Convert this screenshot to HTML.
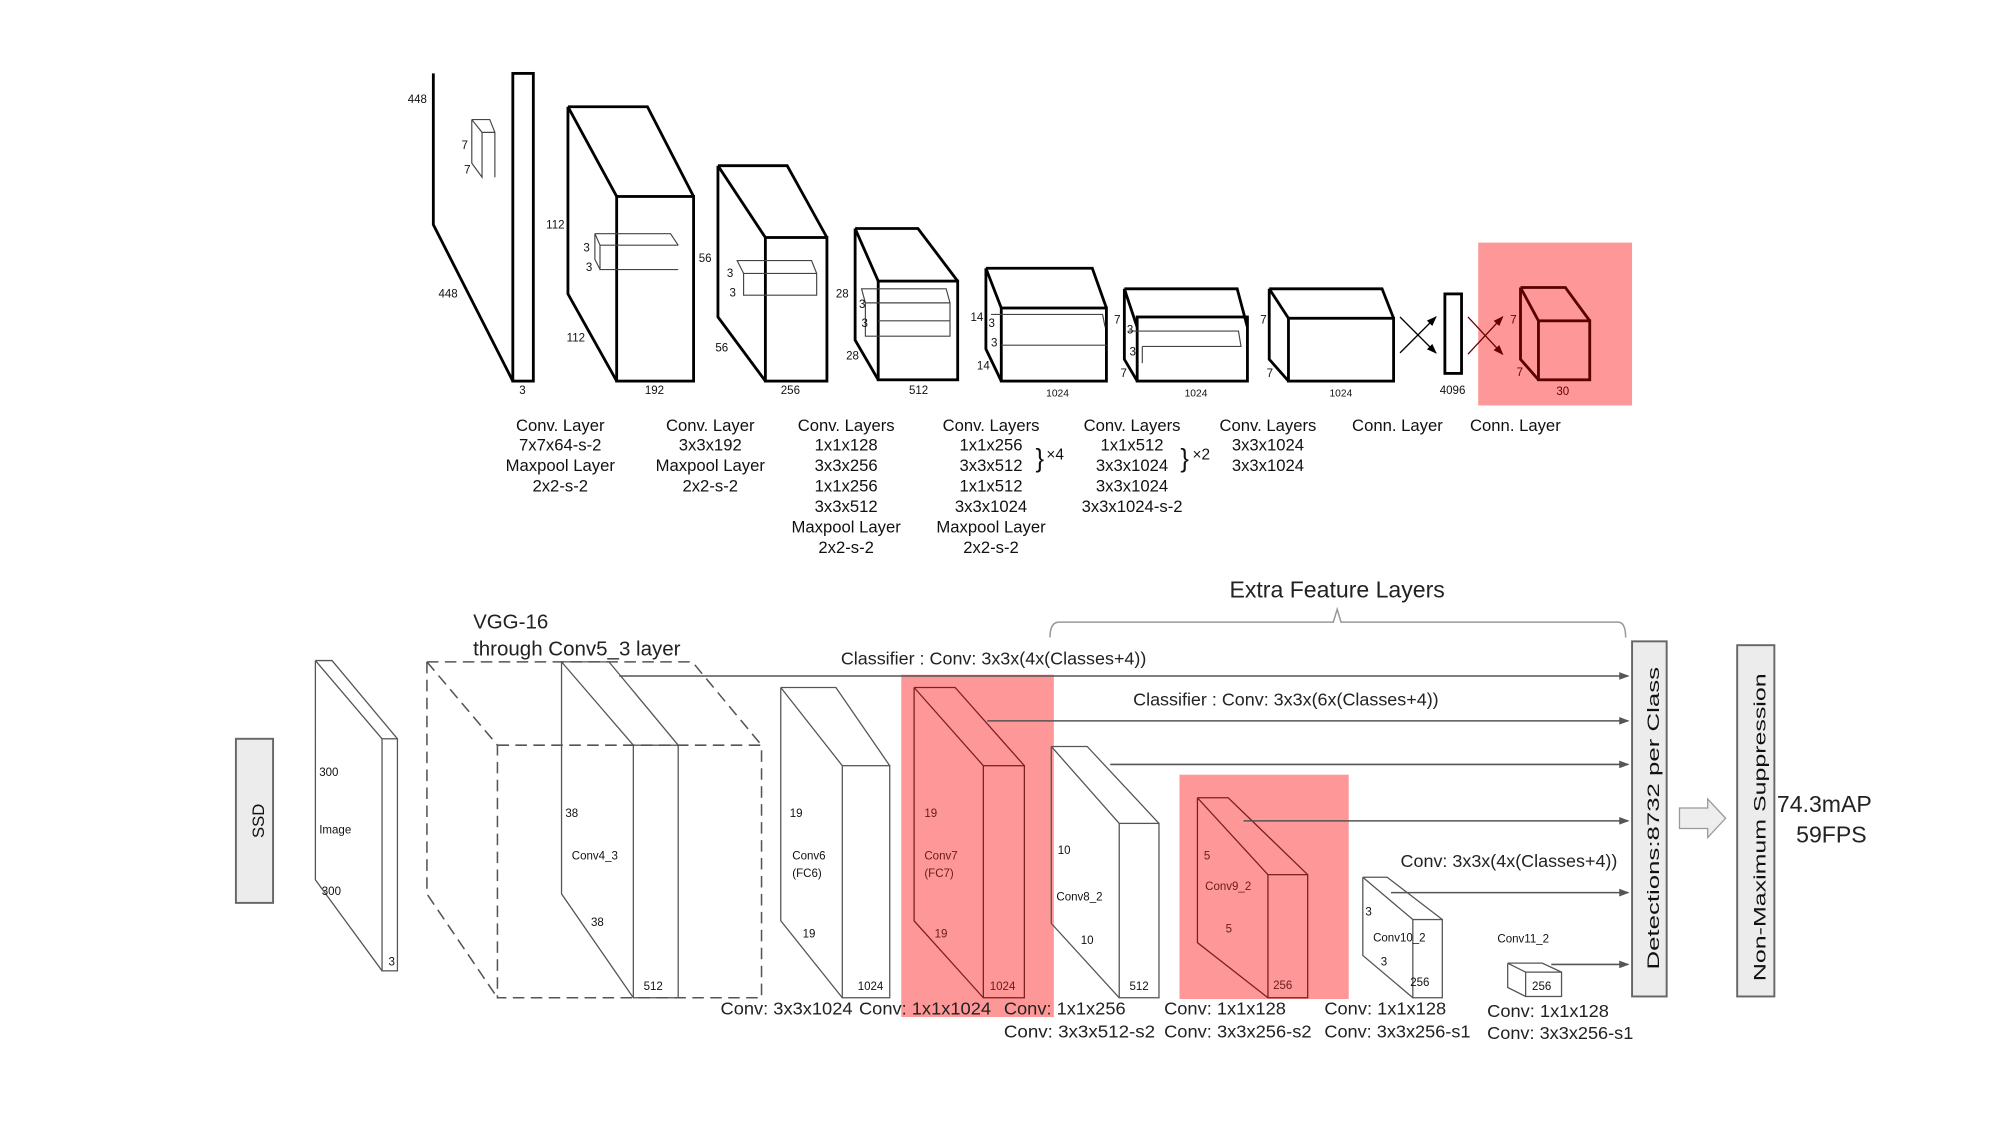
<!DOCTYPE html>
<html><head><meta charset="utf-8"><style>
html,body{margin:0;padding:0;background:#fff}
svg{display:block}
.t{font-family:"Liberation Sans",sans-serif;font-size:13px;fill:#111;text-anchor:middle}
.s{font-family:"Liberation Sans",sans-serif;font-size:9px;fill:#111}
.b{font-family:"Liberation Sans",sans-serif;font-size:14px;fill:#222}
</style></head><body>
<svg width="2000" height="1125" viewBox="0 0 1560 877" xmlns="http://www.w3.org/2000/svg">
<defs>
<marker id="ah" markerWidth="8" markerHeight="8" refX="7" refY="4" orient="auto" markerUnits="userSpaceOnUse"><path d="M0,1 L8,4 L0,7 z" fill="#555"/></marker>
<marker id="ak" markerWidth="8" markerHeight="8" refX="7" refY="4" orient="auto" markerUnits="userSpaceOnUse"><path d="M0,1 L8,4 L0,7 z" fill="#000"/></marker>
<marker id="ar" markerWidth="8" markerHeight="8" refX="7" refY="4" orient="auto" markerUnits="userSpaceOnUse"><path d="M0,1 L8,4 L0,7 z" fill="#600"/></marker>
</defs>
<rect width="1560" height="877" fill="#fff"/>
<rect x="1153" y="189" width="120" height="127" fill="#fe9898"/>
<g fill="none" stroke="#000" stroke-width="2.2">
<path d="M338 57 L338 175 L400 297"/><rect x="400" y="57" width="16" height="240" fill="#fff"/>
<path d="M443 83 L505 83 L541 153 M443 83 L481 153 M443 83 L443 229 L481 297"/><rect x="481" y="153" width="60" height="144"/>
<path d="M560 129 L614 129 L645 185 M560 129 L597 185 M560 129 L560 247 L597 297"/><rect x="597" y="185" width="48" height="112"/>
<path d="M667 178 L716 178 L747 219 M667 178 L685 219 M667 178 L667 265 L685 296"/><rect x="685" y="219" width="62" height="77"/>
<path d="M769 209 L852 209 L863 240 M769 209 L781 240 M769 209 L769 272 L781 297"/><rect x="781" y="240" width="82" height="57"/>
<path d="M877 225 L965 225 L973 255 M877 225 L887 255 M877 225 L877 280 L887 297"/><rect x="887" y="247" width="86" height="50"/>
<path d="M990 225 L1078 225 L1087 248 M990 225 L1005 248 M990 225 L990 280 L1005 297"/><rect x="1005" y="248" width="82" height="49"/>
<rect x="1127" y="229" width="13" height="62"/>
</g>
<g fill="none" stroke="#5a0000" stroke-width="2.2">
<path d="M1186 224 L1221 224 L1240 250 M1186 224 L1200 250 M1186 224 L1186 280 L1200 296"/><rect x="1200" y="250" width="40" height="46"/>
</g>
<g fill="none" stroke="#444" stroke-width="0.9">
<path d="M368 93 L376 103 L386 103 L386 138 M368 93 L382 93 L386 103 M368 93 L368 127 L376 138 L376 103"/>
<path d="M464 182 L523 182 L529 191 M464 182 L468 191 L468 210 L529 210 M468 191 L529 191 M464 182 L464 202 L468 210"/>
<path d="M575 203 L633 203 L637 213 L637 230 L580 230 L580 213 Z M580 213 L637 213"/>
<path d="M672 225 L738 225 L741 236 L741 262 L675 262 L675 236 Z M675 236 L741 236 M685 250 L741 250"/>
<path d="M773 245 L860 245 L862 255 M781 269 L863 269"/>
<path d="M880 258 L966 258 L968 270 L968 270 L891 270 M891 270 L891 283"/>
</g>
<path d="M1092 247 L1120 275" stroke="#000" stroke-width="1" marker-end="url(#ak)"/>
<path d="M1092 275 L1120 247" stroke="#000" stroke-width="1" marker-end="url(#ak)"/>
<path d="M1145 247 L1172 276" stroke="#600" stroke-width="1" marker-end="url(#ar)"/>
<path d="M1145 276 L1172 247" stroke="#600" stroke-width="1" marker-end="url(#ar)"/>
<g class="s">
<text x="318" y="80">448</text><text x="342" y="232">448</text><text x="360" y="116">7</text><text x="362" y="135">7</text><text x="405" y="307">3</text>
<text x="426" y="178">112</text><text x="442" y="266">112</text><text x="455" y="196">3</text><text x="457" y="211">3</text><text x="503" y="307">192</text>
<text x="545" y="204">56</text><text x="558" y="274">56</text><text x="567" y="216">3</text><text x="569" y="231">3</text><text x="609" y="307">256</text>
<text x="652" y="232">28</text><text x="660" y="280">28</text><text x="670" y="240">3</text><text x="672" y="255">3</text><text x="709" y="307">512</text>
<text x="757" y="250">14</text><text x="762" y="288">14</text><text x="771" y="255">3</text><text x="773" y="270">3</text><text x="816" y="309" font-size="8">1024</text>
<text x="869" y="252">7</text><text x="874" y="294">7</text><text x="879" y="260">3</text><text x="881" y="277">3</text><text x="924" y="309" font-size="8">1024</text>
<text x="983" y="252">7</text><text x="988" y="294">7</text><text x="1037" y="309" font-size="8">1024</text>
<text x="1123" y="307">4096</text>
<text x="1178" y="252" fill="#600">7</text><text x="1183" y="293" fill="#600">7</text><text x="1214" y="308" fill="#600">30</text>
</g>
<g class="t">
<text x="437" y="336">Conv. Layer</text><text x="437" y="351">7x7x64-s-2</text><text x="437" y="367">Maxpool Layer</text><text x="437" y="383">2x2-s-2</text>
<text x="554" y="336">Conv. Layer</text><text x="554" y="351">3x3x192</text><text x="554" y="367">Maxpool Layer</text><text x="554" y="383">2x2-s-2</text>
<text x="660" y="336">Conv. Layers</text><text x="660" y="351">1x1x128</text><text x="660" y="367">3x3x256</text><text x="660" y="383">1x1x256</text><text x="660" y="399">3x3x512</text><text x="660" y="415">Maxpool Layer</text><text x="660" y="431">2x2-s-2</text>
<text x="773" y="336">Conv. Layers</text><text x="773" y="351">1x1x256</text><text x="773" y="367">3x3x512</text><text x="773" y="383">1x1x512</text><text x="773" y="399">3x3x1024</text><text x="773" y="415">Maxpool Layer</text><text x="773" y="431">2x2-s-2</text>
<text x="883" y="336">Conv. Layers</text><text x="883" y="351">1x1x512</text><text x="883" y="367">3x3x1024</text><text x="883" y="383">3x3x1024</text><text x="883" y="399">3x3x1024-s-2</text>
<text x="989" y="336">Conv. Layers</text><text x="989" y="351">3x3x1024</text><text x="989" y="367">3x3x1024</text>
<text x="1090" y="336">Conn. Layer</text><text x="1182" y="336">Conn. Layer</text>
<text x="811" y="364" font-size="20">}</text><text x="823" y="358" font-size="12">×4</text>
<text x="924" y="364" font-size="20">}</text><text x="937" y="358" font-size="12">×2</text>
</g>
<rect x="703" y="526" width="119" height="267" fill="#fe9898"/>
<rect x="920" y="604" width="132" height="175" fill="#fe9898"/>
<rect x="184" y="576" width="29" height="128" fill="#ececec" stroke="#666" stroke-width="1.5"/>
<text transform="translate(206,640) rotate(-90)" class="t" font-size="19">SSD</text>
<g fill="none" stroke="#555" stroke-width="1">
<path d="M246 515 L259 515 L310 576 M246 515 L298 576 M246 515 L246 686 L298 757"/><rect x="298" y="576" width="12" height="181" fill="#fff"/>
<g stroke-dasharray="9,5" stroke-width="1.2"><path d="M333 516 L540 516 L594 581 M333 516 L388 581 M333 516 L333 697 L388 778"/><rect x="388" y="581" width="206" height="197"/></g>
<path d="M438 516 L475 516 L529 581 M438 516 L494 581 M438 516 L438 697 L494 778"/><rect x="494" y="581" width="35" height="197"/>
<path d="M609 536 L652 536 L694 597 M609 536 L657 597 M609 536 L609 718 L657 778"/><rect x="657" y="597" width="37" height="181"/>
<path d="M820 582 L848 582 L904 642 M820 582 L873 642 M820 582 L820 720 L873 778"/><rect x="873" y="642" width="31" height="136"/>
<path d="M1063 684 L1082 684 L1125 717 M1063 684 L1102 717 M1063 684 L1063 745 L1102 778"/><rect x="1102" y="717" width="23" height="61"/>
<path d="M1176 751 L1203 751 L1218 758 M1176 751 L1190 758 M1176 751 L1176 770 L1190 777"/><rect x="1190" y="758" width="28" height="19"/>
</g>
<g fill="none" stroke="#7a2020" stroke-width="1">
<path d="M713 536 L745 536 L799 597 M713 536 L767 597 M713 536 L713 718 L767 778"/><rect x="767" y="597" width="32" height="181"/>
<path d="M934 622 L958 622 L1020 682 M934 622 L989 682 M934 622 L934 735 L989 778"/><rect x="989" y="682" width="31" height="96"/>
</g>
<g stroke="#555" stroke-width="1.2" fill="none">
<path d="M483 527 L1270 527" marker-end="url(#ah)"/>
<path d="M770 562 L1270 562" marker-end="url(#ah)"/>
<path d="M866 596 L1270 596" marker-end="url(#ah)"/>
<path d="M970 640 L1270 640" marker-end="url(#ah)"/>
<path d="M1085 696 L1270 696" marker-end="url(#ah)"/>
<path d="M1210 752 L1270 752" marker-end="url(#ah)"/>
<path d="M819 497 Q819 485 826 485 L1040 485 L1043 475 L1046 485 L1262 485 Q1268 485 1268 497" stroke="#999"/>
</g>
<rect x="1273" y="500" width="27" height="277" fill="#ececec" stroke="#666" stroke-width="1.5"/>
<text transform="translate(1294,638) rotate(-90)" class="t" font-size="21" textLength="236" lengthAdjust="spacingAndGlyphs">Detections:8732  per Class</text>
<path d="M1310 630 L1332 630 L1332 623 L1346 638 L1332 653 L1332 646 L1310 646 Z" fill="#eee" stroke="#999"/>
<rect x="1355" y="503" width="29" height="274" fill="#ececec" stroke="#666" stroke-width="1.5"/>
<text transform="translate(1377,645) rotate(-90)" class="t" font-size="21" textLength="240" lengthAdjust="spacingAndGlyphs">Non-Maximum Suppression</text>
<g class="b">
<text x="1386" y="633" font-size="18">74.3mAP</text><text x="1401" y="657" font-size="18">59FPS</text>
<text x="1043" y="466" font-size="18" text-anchor="middle">Extra Feature Layers</text>
<text x="369" y="490" font-size="16">VGG-16</text><text x="369" y="511" font-size="16">through Conv5_3 layer</text>
<text x="775" y="518" text-anchor="middle">Classifier : Conv: 3x3x(4x(Classes+4))</text>
<text x="1003" y="550" text-anchor="middle">Classifier : Conv: 3x3x(6x(Classes+4))</text>
<text x="1177" y="676" text-anchor="middle">Conv: 3x3x(4x(Classes+4))</text>
<text x="562" y="791" textLength="103" lengthAdjust="spacingAndGlyphs">Conv: 3x3x1024</text><text x="670" y="791" textLength="103" lengthAdjust="spacingAndGlyphs">Conv: 1x1x1024</text>
<text x="783" y="791" textLength="95" lengthAdjust="spacingAndGlyphs">Conv: 1x1x256</text><text x="783" y="809" textLength="118" lengthAdjust="spacingAndGlyphs">Conv:  3x3x512-s2</text>
<text x="908" y="791" textLength="95" lengthAdjust="spacingAndGlyphs">Conv: 1x1x128</text><text x="908" y="809" textLength="115" lengthAdjust="spacingAndGlyphs">Conv: 3x3x256-s2</text>
<text x="1033" y="791" textLength="95" lengthAdjust="spacingAndGlyphs">Conv: 1x1x128</text><text x="1033" y="809" textLength="114" lengthAdjust="spacingAndGlyphs">Conv: 3x3x256-s1</text>
<text x="1160" y="793" textLength="95" lengthAdjust="spacingAndGlyphs">Conv: 1x1x128</text><text x="1160" y="810" textLength="114" lengthAdjust="spacingAndGlyphs">Conv: 3x3x256-s1</text>
</g>
<g class="s">
<text x="249" y="605">300</text><text x="249" y="650">Image</text><text x="251" y="698">300</text><text x="303" y="753">3</text>
<text x="441" y="637">38</text><text x="446" y="670">Conv4_3</text><text x="461" y="722">38</text><text x="502" y="772">512</text>
<text x="616" y="637">19</text><text x="618" y="670">Conv6</text><text x="618" y="684">(FC6)</text><text x="626" y="731">19</text><text x="669" y="772">1024</text>
<text x="721" y="637" fill="#6a1a1a">19</text><text x="721" y="670" fill="#6a1a1a">Conv7</text><text x="721" y="684" fill="#6a1a1a">(FC7)</text><text x="729" y="731" fill="#6a1a1a">19</text><text x="772" y="772" fill="#6a1a1a">1024</text>
<text x="825" y="666">10</text><text x="824" y="702">Conv8_2</text><text x="843" y="736">10</text><text x="881" y="772">512</text>
<text x="939" y="670" fill="#6a1a1a">5</text><text x="940" y="694" fill="#6a1a1a">Conv9_2</text><text x="956" y="727" fill="#6a1a1a">5</text><text x="993" y="771" fill="#6a1a1a">256</text>
<text x="1065" y="714">3</text><text x="1071" y="734">Conv10_2</text><text x="1077" y="753">3</text><text x="1100" y="769">256</text>
<text x="1168" y="735">Conv11_2</text><text x="1195" y="772">256</text>
</g>
</svg>
</body></html>
